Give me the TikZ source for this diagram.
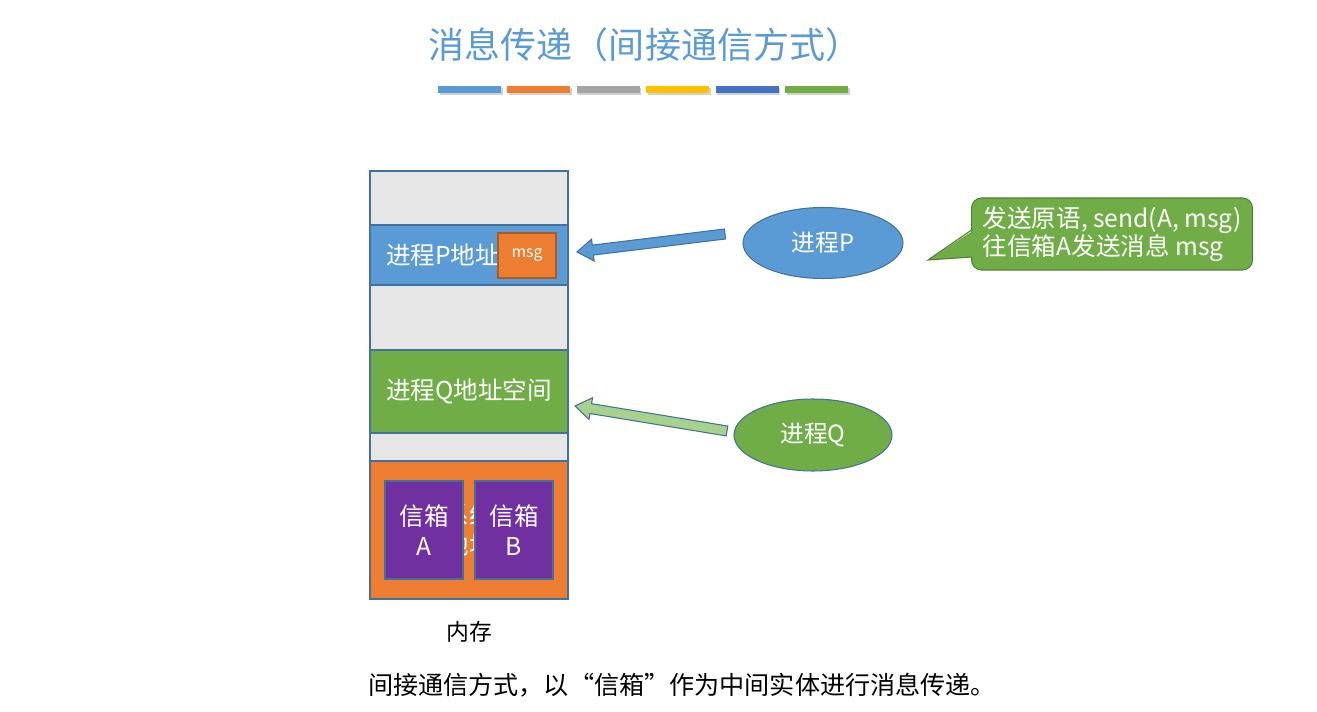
\documentclass[tikz,border=0pt]{standalone}
\usepackage{fontspec}
\setmainfont{Noto Sans CJK SC}
\usetikzlibrary{shapes.geometric,calc}
\definecolor{pblue}{HTML}{5B9BD5}
\definecolor{bline}{HTML}{41719C}
\definecolor{porange}{HTML}{ED7D31}
\definecolor{odark}{HTML}{AE5A21}
\definecolor{pgreen}{HTML}{70AD47}
\definecolor{gdark}{HTML}{507E32}
\definecolor{lgreen}{HTML}{A9D18E}
\definecolor{mgray}{HTML}{E7E6E6}
\definecolor{ppurple}{HTML}{7030A0}
\definecolor{bgray}{HTML}{A5A5A5}
\definecolor{byellow}{HTML}{FFC000}
\definecolor{bdblue}{HTML}{4472C4}

\begin{document}
\begin{tikzpicture}[x=0.02cm,y=-0.02cm]
\tikzstyle{every node}+=[inner sep=0pt, outer sep=0pt]
\tikzstyle{seg}=[draw=bline, line width=0.6pt, minimum width=3.96cm, text=white, font=\fontsize{14}{17}\selectfont]
\tikzstyle{mailbox}=[draw=bline, line width=0.6pt, fill=ppurple, minimum width=1.56cm, minimum height=1.96cm, text=white, align=center, font=\fontsize{14}{17}\selectfont]
\tikzstyle{proc}=[ellipse, draw=bline, line width=0.6pt, text=white, font=\fontsize{13.5}{16}\selectfont]
\useasboundingbox (0,0) rectangle (1317,712);
\node [text=pblue, font=\fontsize{20.5}{24}\selectfont] (title) at (645,45) {消息传递（间接通信方式）};
\foreach \c [count=\i from 0] in {pblue,porange,bgray,byellow,bdblue,pgreen} {
  \fill [black, opacity=0.18] (439.5+69.4*\i,88.5) rectangle +(63,7);
  \fill [\c] (438+69.4*\i,86) rectangle +(63,7);
}
\node [seg, fill=mgray, minimum height=1.08cm] (top) at (469,198) {};
\node [seg, fill=pblue, minimum height=1.2cm] (pspace) at (469,255) {};
\node [anchor=west, text=white, font=\fontsize{14}{17}\selectfont] (plabel) at (386,255) {进程P地址};
\node [seg, fill=mgray, minimum height=1.3cm] (gap1) at (469,317.5) {};
\node [seg, fill=pgreen, minimum height=1.66cm] (qspace) at (469,391.5) {进程Q地址空间};
\node [seg, fill=mgray, minimum height=0.56cm] (gap2) at (469,447) {};
\node [seg, fill=porange, minimum height=2.76cm, align=center] (sys) at (469,530) {系统\\地址};
\node [draw=odark, line width=0.6pt, fill=porange, minimum width=1.16cm, minimum height=0.9cm, text=white, font=\fontsize{9}{11}\selectfont] (msg) at (527,255.5) {msg};
\node [mailbox] (boxa) at (424,530) {信箱\\A};
\node [mailbox] (boxb) at (514,530) {信箱\\B};
\node [font=\fontsize{13}{16}\selectfont] (mem) at (469,632) {内存};
\node [anchor=west, font=\fontsize{14.3}{17}\selectfont] (caption) at (368,685) {间接通信方式，以“信箱”作为中间实体进行消息传递。};
\node [proc, fill=pblue, minimum width=3.2cm, minimum height=1.42cm] (procp) at (823,243) {进程P};
\node [proc, fill=pgreen, minimum width=3.16cm, minimum height=1.44cm] (procq) at (813,435) {进程Q};
\node [rounded corners=0.2cm, draw=gdark, line width=0.6pt, fill=pgreen, minimum width=5.62cm, minimum height=1.44cm, text=white, align=left, font=\fontsize{14}{16}\selectfont] (call) at (1112,234) {发送原语, send(A, msg)\\往信箱A发送消息 msg};
\coordinate (ctip) at (928,260);
\fill [pgreen] (974,230) -- (ctip) -- (974,257) -- cycle;
\draw [gdark, line width=0.6pt] (call.west |- 0,230) -- (ctip) -- (call.west |- 0,257);
\coordinate (ptail) at ($(procp.west)+(-18,-9)$);
\coordinate (ptip) at ($(pspace.east)+(9,-3)$);
\coordinate (qtail) at ($(procq.west)+(-7,-4)$);
\coordinate (qtip) at ($(qspace.east)+(7,14.5)$);
\foreach \t/\h/\c in {ptail/ptip/pblue, qtail/qtip/lgreen}
  \draw [bline, line width=0.6pt, fill=\c] ($(\t)!0.1cm!90:(\h)$) -- ($(\h)!0.32cm!(\t)!0.1cm!-90:(\t)$) -- ($(\h)!0.32cm!(\t)!0.22cm!-90:(\t)$) -- (\h) -- ($(\h)!0.32cm!(\t)!0.22cm!90:(\t)$) -- ($(\h)!0.32cm!(\t)!0.1cm!90:(\t)$) -- ($(\t)!0.1cm!-90:(\h)$) -- cycle;
\end{tikzpicture}
\end{document}
